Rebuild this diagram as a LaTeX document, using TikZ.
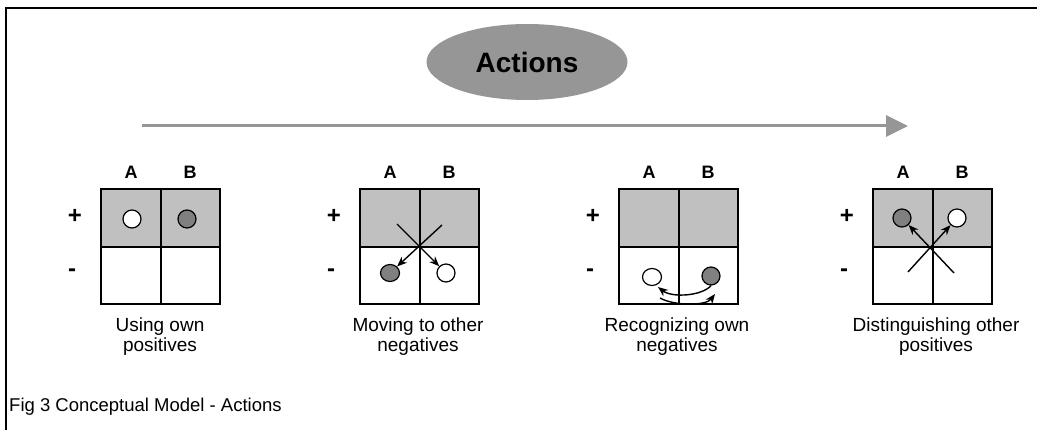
\documentclass[tikz,border=0pt]{standalone}
\usepackage{fontspec}
\setmainfont{Liberation Sans}
\usetikzlibrary{shapes.geometric,arrows.meta}
\definecolor{cellgray}{HTML}{C0C0C0}
\definecolor{dotgray}{HTML}{808080}
\definecolor{ovalgray}{HTML}{969696}
\begin{document}
\begin{tikzpicture}[x=1pt,y=-1pt,
  lbl/.style={font=\fontsize{18}{18}\selectfont\bfseries,inner sep=0pt},
  sgn/.style={font=\fontsize{24}{24}\selectfont\bfseries,inner sep=0pt},
  captxt/.style={font=\fontsize{19}{20}\selectfont,align=center,inner sep=0pt,anchor=north},
  wdot/.style={circle,draw=black,line width=1.2pt,fill=white,minimum size=18pt,inner sep=0pt},
  gdot/.style={wdot,fill=dotgray},
  gridline/.style={line width=2pt},
  mv/.style={line width=1.4pt,-{Stealth[length=10pt,width=8pt]}}
]
\useasboundingbox (0,0) rectangle (1037,430);
\fill[white] (0,0) rectangle (1037,430);
\draw[line width=2pt] (6,430) -- (6,8) -- (1037,8);

% title oval
\node[ellipse,fill=ovalgray,minimum width=201pt,minimum height=76pt,inner sep=0pt,
      font=\fontsize{28}{28}\selectfont\bfseries] (actions) at (527,62) {Actions};

% progress arrow
\coordinate (arrS) at (142,126);
\coordinate (arrE) at (908,126);
\draw[ovalgray,line width=3pt,-{Triangle[length=22pt,width=21pt]}] (arrS) -- (arrE);

% grids
\foreach \L [count=\i] in {101,360,619,873}{
  \fill[cellgray] (\L,189) rectangle ++(119,58);
  \draw[gridline] (\L,189) rectangle ++(119,115);
  \draw[gridline] (\L+59.5,189) -- (\L+59.5,304);
  \draw[gridline] (\L,247) -- (\L+119,247);
  \node[lbl] (A\i) at (\L+30,172) {A};
  \node[lbl] (B\i) at (\L+89,172) {B};
  \node[sgn] (P\i) at (\L-26,216) {+};
  \node[sgn] (M\i) at (\L-29,273) {-};
}

% panel 1
\node[wdot] (w1) at (132,219) {};
\node[gdot] (g1) at (187,219) {};
\node[captxt] (t1) at (160,318) {Using own\\positives};

% panel 2
\node[gdot,minimum width=19pt,minimum height=17pt,ellipse] (g2) at (390,273) {};
\node[wdot] (w2) at (446,273) {};
\coordinate (s2a) at (397,224);
\coordinate (s2b) at (442,225);
\draw[mv] (s2a) -- (w2);
\draw[mv] (s2b) -- (g2);
\node[captxt] (t2) at (418,318) {Moving to other\\negatives};

% panel 3
\node[wdot,ellipse,minimum width=19pt,minimum height=17pt] (w3) at (652,277) {};
\node[gdot] (g3) at (711,276) {};
\coordinate (e3a) at (658,287);
\coordinate (s3b) at (660,298);
\coordinate (e3b) at (715,294);
\draw[mv] (g3.south) .. controls (702,296) and (672,298) .. (e3a);
\draw[mv] (s3b) .. controls (674,306) and (706,306) .. (e3b);
\node[captxt] (t3) at (677,318) {Recognizing own\\negatives};

% panel 4
\node[gdot] (g4) at (902,218) {};
\node[wdot] (w4) at (957,218) {};
\coordinate (s4a) at (908,272);
\coordinate (s4b) at (954,273);
\draw[mv] (s4a) -- (w4);
\draw[mv] (s4b) -- (g4);
\node[captxt] (t4) at (936,318) {Distinguishing other\\positives};

% figure caption
\node[anchor=base west,inner sep=0pt,font=\fontsize{18.5}{20}\selectfont] (fig) at (9,412) {Fig 3 Conceptual Model - Actions};
\end{tikzpicture}
\end{document}
